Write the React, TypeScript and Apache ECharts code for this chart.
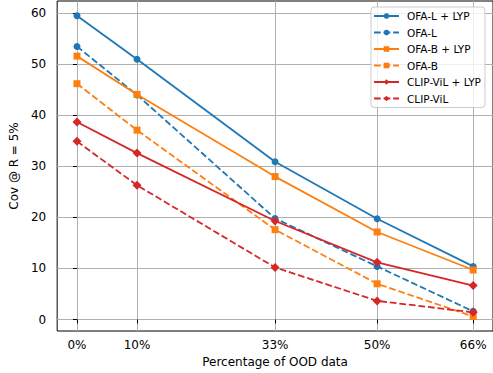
import React, { useEffect, useRef } from "react";
import * as echarts from "echarts";

const xValues = [0, 10, 33, 50, 66];
const xTicks = [0, 10, 33, 50, 66];
const yTicks = [0, 10, 20, 30, 40, 50, 60];

const ofaLLyp = [59.5, 51.0, 30.9, 19.75, 10.4];
const ofaL = [53.5, 44.0, 19.8, 10.4, 1.6];
const ofaBLyp = [51.6, 44.1, 28.0, 17.15, 9.7];
const ofaB = [46.2, 37.1, 17.6, 7.0, 0.6];
const clipLyp = [38.7, 32.6, 19.3, 11.2, 6.65];
const clip = [34.9, 26.3, 10.2, 3.65, 1.4];

const seriesDefs = [
  { name: "OFA-L + LYP", data: ofaLLyp, color: "#1f77b4", dashed: false, symbol: "circle", size: 7 },
  { name: "OFA-L", data: ofaL, color: "#1f77b4", dashed: true, symbol: "circle", size: 7 },
  { name: "OFA-B + LYP", data: ofaBLyp, color: "#ff7f0e", dashed: false, symbol: "rect", size: 7 },
  { name: "OFA-B", data: ofaB, color: "#ff7f0e", dashed: true, symbol: "rect", size: 7 },
  { name: "CLIP-ViL + LYP", data: clipLyp, color: "#d62728", dashed: false, symbol: "diamond", size: 9 },
  { name: "CLIP-ViL", data: clip, color: "#d62728", dashed: true, symbol: "diamond", size: 9 },
];

const FONT = "DejaVu Sans";

export default function App() {
  const ref = useRef<HTMLDivElement>(null);
  useEffect(() => {
    if (!ref.current) return;
    const chart = echarts.init(ref.current, undefined, { renderer: "svg" });
    chart.setOption({
      animation: false,
      backgroundColor: "#ffffff",
      textStyle: { fontFamily: FONT },
      grid: {
        left: 51,
        top: 1,
        right: -3,
        bottom: 42,
        show: true,
        borderColor: "#000000",
        borderWidth: 1,
        containLabel: false,
      },
      legend: {
        orient: "vertical",
        left: 371,
        top: 7,
        padding: [3, 4, 3, 2],
        itemWidth: 25,
        itemHeight: 7,
        itemGap: 4.5,
        backgroundColor: "rgba(255,255,255,0.8)",
        borderColor: "#cccccc",
        borderWidth: 1,
        borderRadius: 3,
        textStyle: {
          fontFamily: FONT,
          fontSize: 10.5,
          color: "#000",
          lineHeight: 12,
          padding: [0, 0, 0, 3],
        },
        data: seriesDefs.map((s) => s.name),
      },
      xAxis: {
        type: "value",
        min: -3.3,
        max: 69.3,
        name: "Percentage of OOD data",
        nameLocation: "middle",
        nameGap: 25,
        nameTextStyle: { fontFamily: FONT, fontSize: 12, color: "#000" },
        axisLine: { show: false },
        axisTick: {
          show: true,
          length: 4,
          lineStyle: { color: "#000", width: 1 },
          customValues: xTicks,
        },
        axisLabel: {
          fontFamily: FONT,
          fontSize: 12,
          color: "#000",
          margin: 8,
          customValues: xTicks,
          formatter: (v: number) => `${v}%`,
        },
        splitLine: { show: true, lineStyle: { color: "#b0b0b0", width: 1 } },
      },
      yAxis: {
        type: "value",
        min: -2.25,
        max: 62.4,
        name: "Cov @ R = 5%",
        nameLocation: "middle",
        nameGap: 32,
        nameTextStyle: { fontFamily: FONT, fontSize: 12, color: "#000" },
        axisLine: { show: false },
        axisTick: {
          show: true,
          length: 4,
          lineStyle: { color: "#000", width: 1 },
          customValues: yTicks,
        },
        axisLabel: {
          fontFamily: FONT,
          fontSize: 12,
          color: "#000",
          margin: 11,
          customValues: yTicks,
        },
        splitLine: { show: true, lineStyle: { color: "#b0b0b0", width: 1 } },
      },
      series: seriesDefs.map((s) => ({
        name: s.name,
        type: "line",
        data: s.data.map((v, i) => [xValues[i], v]),
        symbol: s.symbol,
        symbolSize: s.size,
        showSymbol: true,
        itemStyle: { color: s.color },
        lineStyle: {
          color: s.color,
          width: 1.8,
          type: s.dashed ? [6.7, 2.9] : "solid",
        },
        emphasis: { disabled: true },
        z: 3,
      })),
    });
    return () => chart.dispose();
  }, []);
  return <div ref={ref} style={{ width: 493, height: 373, position: "absolute", left: 0, top: 0 }} />;
}
